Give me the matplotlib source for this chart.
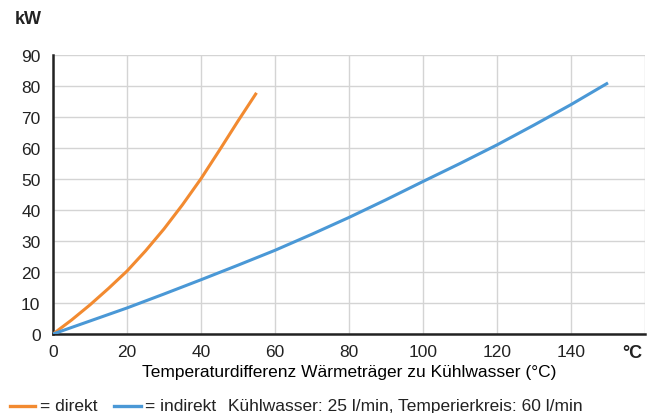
import numpy as np
import matplotlib
matplotlib.use('Agg')
import matplotlib.pyplot as plt
from matplotlib.lines import Line2D

plt.rcParams['font.family'] = ['Liberation Sans', 'DejaVu Sans']
plt.rcParams['text.color'] = '#222222'
plt.rcParams['xtick.color'] = '#222222'
plt.rcParams['ytick.color'] = '#222222'

# direkt
direkt_x = [0, 5, 10, 15, 20, 25, 30, 35, 40, 45, 50, 55]
direkt_y = [0, 4.5, 9.4, 14.7, 20.3, 26.8, 33.9, 41.7, 50.1, 59.3, 68.7, 77.8]
# indirekt
indirekt_x = [0, 10, 20, 30, 40, 50, 60, 70, 80, 90, 100, 110, 120, 130, 140, 150]
indirekt_y = [0, 4.2, 8.4, 12.9, 17.5, 22.2, 27, 32.2, 37.6, 43.3, 49.2, 55, 61, 67.4, 74, 81]

xticks = [0, 20, 40, 60, 80, 100, 120, 140]
yticks = [0, 10, 20, 30, 40, 50, 60, 70, 80, 90]

orange = '#f28a30'
blue = '#4a98d6'
fs = 12.5

fig = plt.figure(figsize=(6.47, 4.14), dpi=100)
ax = fig.add_axes([53/647, 79/414, 592/647, 279/414])

ax.plot(direkt_x, direkt_y, color=orange, lw=2.2, zorder=3, solid_capstyle='butt')
ax.plot(indirekt_x, indirekt_y, color=blue, lw=2.2, zorder=3, solid_capstyle='butt')

ax.set_xlim(0, 160)
ax.set_ylim(0, 90)
ax.set_xticks(xticks)
ax.set_yticks(yticks)
ax.set_xticks([160], minor=True)
ax.grid(True, which='both', color='#d4d4d4', lw=1)
ax.tick_params(which='both', length=0, labelsize=fs)
ax.tick_params(axis='y', pad=9)
ax.tick_params(axis='x', pad=7)
for s in ['top', 'right']:
    ax.spines[s].set_visible(False)
for s in ['left', 'bottom']:
    ax.spines[s].set_linewidth(1.8)
    ax.spines[s].set_color('#222222')
ax.set_axisbelow(True)

ax.set_xlabel('Temperaturdifferenz Wärmeträger zu Kühlwasser (°C)', fontsize=fs, labelpad=4)
fig.text(15/647, 1 - 20/414, 'kW', fontsize=13, fontweight='bold', va='center', ha='left')
fig.text(632/647, 1 - 354/414, '°C', fontsize=13, fontweight='bold', va='center', ha='center')

# legend row at the bottom
ly = 1 - 407/414
fig.add_artist(Line2D([10/647, 35/647], [ly, ly], color=orange, lw=2.4))
fig.text(40/647, ly, '= direkt', fontsize=fs, va='center', ha='left')
fig.add_artist(Line2D([114/647, 141/647], [ly, ly], color=blue, lw=2.4))
fig.text(145/647, ly, '= indirekt', fontsize=fs, va='center', ha='left')
fig.text(228/647, ly, 'Kühlwasser: 25 l/min, Temperierkreis: 60 l/min', fontsize=fs,
         va='center', ha='left')

fig.savefig('out.png', dpi=100)
